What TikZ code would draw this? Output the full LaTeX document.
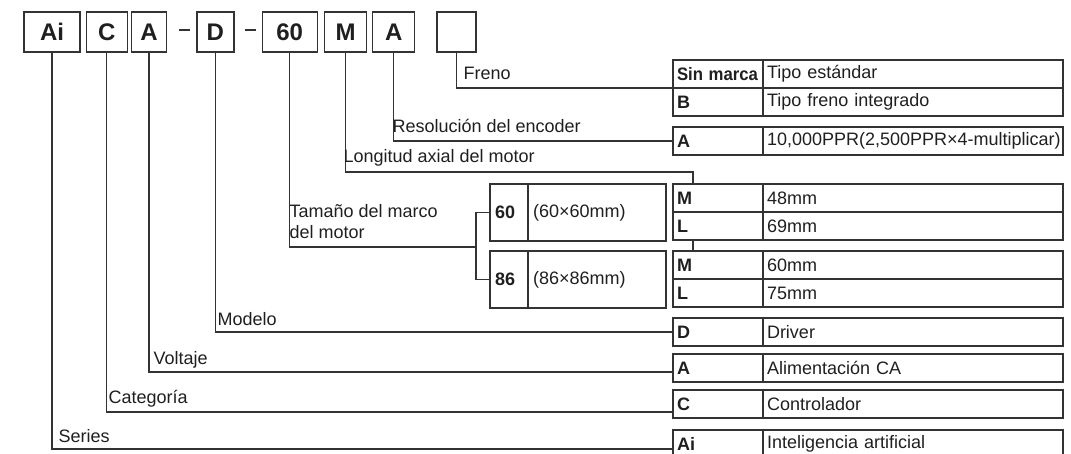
\documentclass[tikz,border=0pt]{standalone}
\usepackage{fontspec}
\setmainfont{Liberation Sans}
\usetikzlibrary{positioning}

\begin{document}
\begin{tikzpicture}[
  x=1pt, y=-1pt,
  line width=1.3pt,
  every node/.style={text=black!88, font=\fontsize{18}{21}\selectfont},
  codebox/.style={draw=black!80, minimum height=40pt, inner sep=0pt, font=\fontsize{24}{27}\selectfont\bfseries},
  keycell/.style={draw=black!80, outer sep=0pt, minimum height=28pt, text width=82pt, inner xsep=4pt, inner ysep=0pt, align=left, font=\fontsize{18}{21}\selectfont\bfseries},
  valcell/.style={draw=black!80, outer sep=0pt, minimum height=28pt, text width=292pt, inner xsep=4pt, inner ysep=0pt, align=left},
  sizekey/.style={keycell, minimum height=57pt, text width=28pt, inner xsep=5pt},
  sizeval/.style={valcell, minimum height=57pt, text width=128pt, inner xsep=5pt},
  tag/.style={anchor=base west, inner sep=0pt, align=left},
  wire/.style={draw=black!80}
]
\clip (0,0) rectangle (1071,453);

% code boxes
\node[codebox, minimum width=56pt] (codeAi) at (52,32) {Ai};
\node[codebox, minimum width=41pt, right=5pt of codeAi] (codeC) {C};
\node[codebox, minimum width=35pt, right=3pt of codeC] (codeA) {A};
\node[codebox, minimum width=37pt, right=29pt of codeA] (codeD) {D};
\node[codebox, minimum width=55pt, right=27pt of codeD] (codeSize) {60};
\node[codebox, minimum width=42pt, right=6pt of codeSize] (codeLen) {M};
\node[codebox, minimum width=42pt, right=5pt of codeLen] (codeEnc) {A};
\node[codebox, minimum width=39pt, right=21pt of codeEnc] (codeBrake) {};
\draw[wire] ([shift={(12,-2)}]codeA.east) -- ([shift={(23,-2)}]codeA.east);
\draw[wire] ([shift={(10,-2)}]codeD.east) -- ([shift={(21,-2)}]codeD.east);

% option tables
\node[keycell, anchor=north west] (brakeKey1) at (673,60) {\scalebox{0.93}[1]{Sin marca}};
\node[valcell, right=0pt of brakeKey1] (brakeVal1) {Tipo estándar};
\node[keycell, below=0pt of brakeKey1] (brakeKey2) {B};
\node[valcell, right=0pt of brakeKey2] (brakeVal2) {Tipo freno integrado};

\node[keycell, anchor=north west] (encKey) at (673,127) {A};
\node[valcell, right=0pt of encKey] (encVal) {\mbox{10,000PPR(2,500PPR×4-multiplicar)}};

\node[sizekey, anchor=north west] (size60Key) at (490,184) {60};
\node[sizeval, right=0pt of size60Key] (size60Val) {(60×60mm)};
\node[sizekey, anchor=north west] (size86Key) at (490,251) {86};
\node[sizeval, right=0pt of size86Key] (size86Val) {(86×86mm)};

\node[keycell, anchor=north west] (len60Key1) at (673,184) {M};
\node[valcell, right=0pt of len60Key1] (len60Val1) {48mm};
\node[keycell, below=0pt of len60Key1] (len60Key2) {L};
\node[valcell, right=0pt of len60Key2] (len60Val2) {69mm};
\node[keycell, anchor=north west] (len86Key1) at (673,251) {M};
\node[valcell, right=0pt of len86Key1] (len86Val1) {60mm};
\node[keycell, below=0pt of len86Key1] (len86Key2) {L};
\node[valcell, right=0pt of len86Key2] (len86Val2) {75mm};

\node[keycell, anchor=north west] (modelKey) at (673,318) {D};
\node[valcell, right=0pt of modelKey] (modelVal) {Driver};
\node[keycell, anchor=north west] (voltKey) at (673,354) {A};
\node[valcell, right=0pt of voltKey] (voltVal) {Alimentación CA};
\node[keycell, anchor=north west] (catKey) at (673,390) {C};
\node[valcell, right=0pt of catKey] (catVal) {Controlador};
\node[keycell, anchor=north west] (seriesKey) at (673,430) {Ai};
\node[valcell, right=0pt of seriesKey] (seriesVal) {Inteligencia artificial};

% connectors
\draw[wire] (codeBrake.south) |- (brakeKey1.south west);
\draw[wire] (codeEnc.south) |- (encKey.west);
\coordinate (lenJoint) at (693,172);
\draw[wire] (codeLen.south) |- (lenJoint) -- (lenJoint |- len60Key1.north);
\draw[wire] ([xshift=20pt]len60Key2.south west) -- ([xshift=20pt]len86Key1.north west);
\coordinate (sizeFork) at (476,247);
\draw[wire] (codeSize.south) |- (sizeFork);
\draw[wire] (size60Key.west) -| (sizeFork) |- (size86Key.west);
\draw[wire] (codeD.south) |- (modelKey.west);
\draw[wire] (codeA.south) |- ([yshift=-4pt]voltKey.west);
\draw[wire] (codeC.south) |- ([yshift=-8pt]catKey.west);
\draw[wire] (codeAi.south) |- ([yshift=-5pt]seriesKey.west);

% labels
\node[tag] (brakeTag) at (463,79) {Freno};
\node[tag] (encTag) at (392,132) {Resolución del encoder};
\node[tag] (lenTag) at (343,162) {Longitud axial del motor};
\node[tag] (sizeTag) at (289,238) {Tamaño del marco\\del motor};
\node[tag] (modelTag) at (217,325) {Modelo};
\node[tag] (voltTag) at (153,364) {Voltaje};
\node[tag] (catTag) at (108,403) {Categoría};
\node[tag] (seriesTag) at (58,442) {Series};
\end{tikzpicture}
\end{document}
